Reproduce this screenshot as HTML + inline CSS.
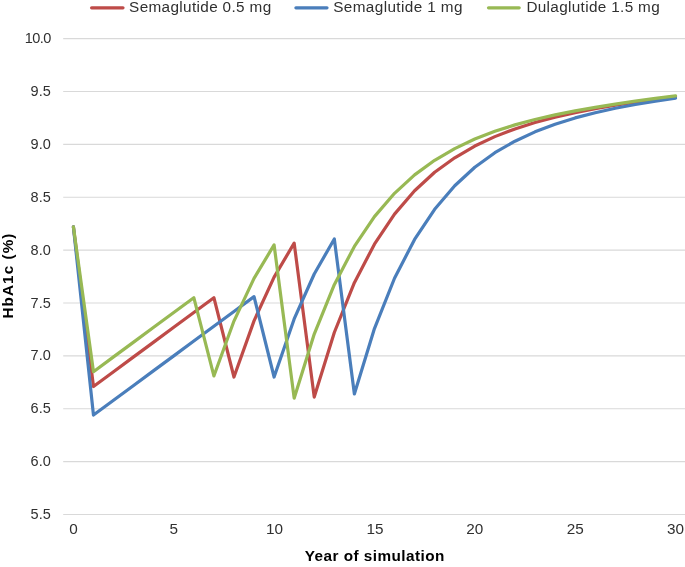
<!DOCTYPE html>
<html><head><meta charset="utf-8"><title>HbA1c progression</title>
<style>
html,body{margin:0;padding:0;background:#fff;}
svg{display:block;will-change:transform;font-family:"Liberation Sans",sans-serif;}
.g line{stroke:#d9d9d9;stroke-width:1.15;}
.t text{font-size:15.3px;fill:#303030;}
.b{font-weight:bold;font-size:15.3px;fill:#000;}
.s{fill:none;stroke-width:3.2;stroke-linejoin:round;stroke-linecap:round;}
</style></head><body>
<svg width="685" height="567" viewBox="0 0 685 567">
<rect width="685" height="567" fill="#fff"/>
<g class="g">
<line x1="63.2" x2="685" y1="38.60" y2="38.60"/>
<line x1="63.2" x2="685" y1="91.47" y2="91.47"/>
<line x1="63.2" x2="685" y1="144.35" y2="144.35"/>
<line x1="63.2" x2="685" y1="197.22" y2="197.22"/>
<line x1="63.2" x2="685" y1="250.10" y2="250.10"/>
<line x1="63.2" x2="685" y1="302.98" y2="302.98"/>
<line x1="63.2" x2="685" y1="355.85" y2="355.85"/>
<line x1="63.2" x2="685" y1="408.73" y2="408.73"/>
<line x1="63.2" x2="685" y1="461.60" y2="461.60"/>
<line x1="63.2" x2="685" y1="514.48" y2="514.48"/>
</g>
<g class="t">
<text transform="translate(50.80,43.20) scale(0.9500,1)" text-anchor="end" letter-spacing="-0.600">10.0</text>
<text transform="translate(50.80,96.07) scale(0.9500,1)" text-anchor="end" letter-spacing="0.000">9.5</text>
<text transform="translate(50.80,148.95) scale(0.9500,1)" text-anchor="end" letter-spacing="0.000">9.0</text>
<text transform="translate(50.80,201.83) scale(0.9500,1)" text-anchor="end" letter-spacing="0.000">8.5</text>
<text transform="translate(50.80,254.70) scale(0.9500,1)" text-anchor="end" letter-spacing="0.000">8.0</text>
<text transform="translate(50.80,307.58) scale(0.9500,1)" text-anchor="end" letter-spacing="0.000">7.5</text>
<text transform="translate(50.80,360.45) scale(0.9500,1)" text-anchor="end" letter-spacing="0.000">7.0</text>
<text transform="translate(50.80,413.33) scale(0.9500,1)" text-anchor="end" letter-spacing="0.000">6.5</text>
<text transform="translate(50.80,466.20) scale(0.9500,1)" text-anchor="end" letter-spacing="0.000">6.0</text>
<text transform="translate(50.80,519.07) scale(0.9500,1)" text-anchor="end" letter-spacing="0.000">5.5</text>
<text transform="translate(73.40,534.10) scale(1.0000,1)" text-anchor="middle" letter-spacing="0.000">0</text>
<text transform="translate(173.75,534.10) scale(1.0000,1)" text-anchor="middle" letter-spacing="0.000">5</text>
<text transform="translate(274.60,534.10) scale(1.0000,1)" text-anchor="middle" letter-spacing="0.000">10</text>
<text transform="translate(374.95,534.10) scale(1.0000,1)" text-anchor="middle" letter-spacing="0.000">15</text>
<text transform="translate(474.80,534.10) scale(1.0000,1)" text-anchor="middle" letter-spacing="0.000">20</text>
<text transform="translate(575.15,534.10) scale(1.0000,1)" text-anchor="middle" letter-spacing="0.000">25</text>
<text transform="translate(675.50,534.10) scale(1.0000,1)" text-anchor="middle" letter-spacing="0.000">30</text>
<text transform="translate(129.10,12.20) scale(1.0000,1)" text-anchor="start" letter-spacing="0.353">Semaglutide 0.5 mg</text>
<text transform="translate(333.20,12.20) scale(1.0000,1)" text-anchor="start" letter-spacing="0.400">Semaglutide 1 mg</text>
<text transform="translate(526.40,12.20) scale(1.0000,1)" text-anchor="start" letter-spacing="0.335">Dulaglutide 1.5 mg</text>
</g>
<g class="s">
<line x1="91.6" x2="123.0" y1="7.85" y2="7.85" stroke="#be4b48"/>
<line x1="295.9" x2="327.0" y1="7.85" y2="7.85" stroke="#4a7ebb"/>
<line x1="488.5" x2="519.2" y1="7.85" y2="7.85" stroke="#98b954"/>
<polyline stroke="#be4b48" points="73.40,226.83 93.47,386.52 113.54,371.71 133.61,356.91 153.68,342.10 173.75,327.30 193.82,312.49 213.89,297.69 233.96,377.00 254.03,320.85 274.10,277.17 294.17,243.12 314.24,397.09 334.31,332.48 354.38,282.67 374.45,244.18 394.52,214.15 414.59,190.77 434.66,172.27 454.73,157.78 474.80,146.04 494.87,136.63 514.94,128.91 535.01,122.57 555.08,117.17 575.15,112.62 595.22,108.61 615.29,105.22 635.36,102.16 655.43,99.30 675.50,96.76"/>
<polyline stroke="#4a7ebb" points="73.40,226.83 93.47,415.07 113.54,400.27 133.61,385.46 153.68,370.65 173.75,355.85 193.82,341.05 213.89,326.24 233.96,311.44 254.03,296.63 274.10,377.00 294.17,318.94 314.24,274.00 334.31,239.00 354.38,393.92 374.45,328.57 394.52,278.23 414.59,239.42 434.66,209.28 454.73,185.80 474.80,167.30 494.87,152.70 514.94,141.18 535.01,131.87 555.08,124.26 575.15,117.91 595.22,112.73 615.29,108.29 635.36,104.48 655.43,101.10 675.50,98.14"/>
<polyline stroke="#98b954" points="73.40,226.83 93.47,371.71 113.54,356.91 133.61,342.10 153.68,327.30 173.75,312.49 193.82,297.69 213.89,375.94 233.96,321.06 254.03,278.34 274.10,244.92 294.17,398.15 314.24,334.07 334.31,284.68 354.38,246.40 374.45,216.58 394.52,193.31 414.59,174.91 434.66,160.32 454.73,148.58 474.80,139.06 494.87,131.34 514.94,124.89 535.01,119.50 555.08,114.85 575.15,110.83 595.22,107.34 615.29,104.16 635.36,101.10 655.43,98.35 675.50,95.81"/>
</g>
<text class="b" transform="translate(374.80,561.40) scale(1.0000,1)" text-anchor="middle" letter-spacing="0.460">Year of simulation</text>
<g transform="translate(14,275.5) rotate(-90)"><text class="b" transform="translate(0.00,-1.30) scale(1.0000,1)" text-anchor="middle" letter-spacing="1.060">HbA1c (%)</text></g>
</svg>
</body></html>
